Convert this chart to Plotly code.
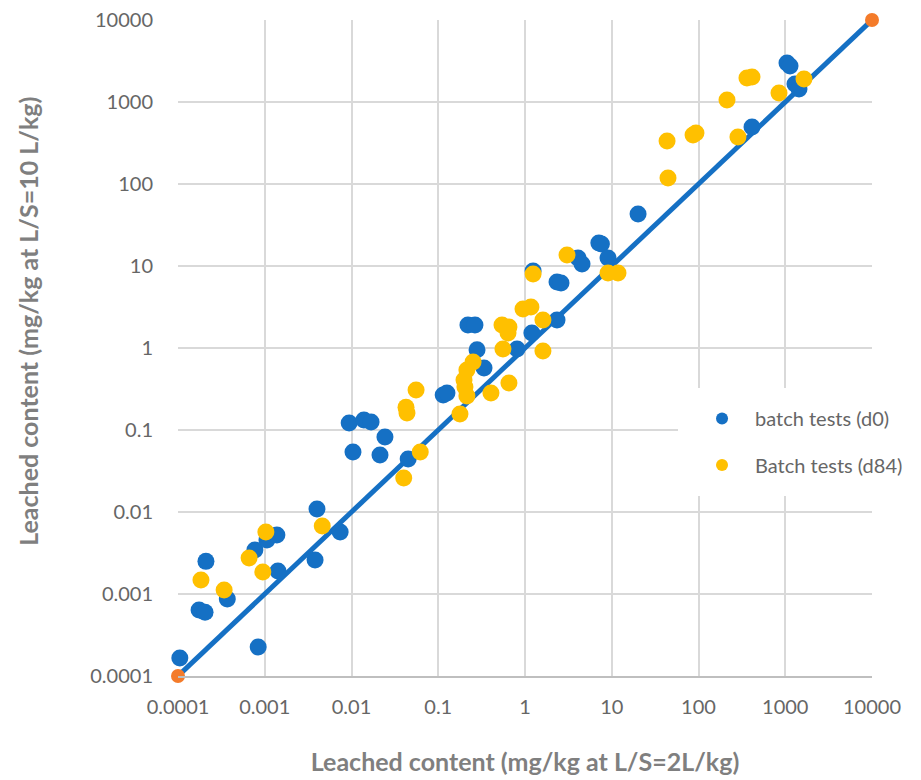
import plotly.graph_objects as go

# 1:1 reference series
ref_x = [0.0001, 10000]
ref_y = [0.0001, 10000]

# batch tests (d0)
d0_x = [1.05e-4, 8.4e-4, 1.75e-4, 2.05e-4, 2.1e-4, 3.7e-4, 7.7e-4, 1.06e-3, 1.38e-3, 1.42e-3,
        4.0e-3, 3.8e-3, 7.4e-3, 9.4e-3, 1.39e-2, 1.68e-2, 2.43e-2, 1.04e-2, 2.13e-2, 4.5e-2,
        0.114, 0.126, 0.22, 0.265, 0.28, 0.337, 0.81, 1.2, 1.24, 2.34,
        2.34, 2.6, 4.08, 4.54, 7.1, 7.6, 9.06, 20.1, 414, 1047,
        1135, 1295, 1440]
d0_y = [1.66e-4, 2.26e-4, 6.4e-4, 6.0e-4, 2.5e-3, 8.7e-4, 3.44e-3, 4.56e-3, 5.25e-3, 1.91e-3,
        1.09e-2, 2.6e-3, 5.7e-3, 0.122, 0.132, 0.125, 0.082, 0.054, 0.0496, 0.0443,
        0.267, 0.283, 1.91, 1.91, 0.95, 0.57, 0.97, 1.52, 8.7, 2.19,
        6.38, 6.2, 12.5, 10.6, 19.1, 18.5, 12.5, 43, 496, 2990,
        2750, 1660, 1440]

# Batch tests (d84)
d84_x = [1.84e-4, 3.4e-4, 6.6e-4, 1.03e-3, 9.5e-4, 4.6e-3, 5.55e-2, 4.25e-2, 4.36e-2, 6.2e-2,
         4.0e-2, 0.178, 0.214, 0.203, 0.198, 0.214, 0.252, 0.405, 0.653, 0.557,
         0.543, 0.653, 0.637, 0.948, 1.17, 1.61, 1.61, 1.24, 3.05, 9.06,
         11.8, 44.5, 43.4, 86.5, 93.5, 213, 285, 362, 414, 847, 1644]
d84_y = [1.48e-3, 1.12e-3, 2.75e-3, 5.7e-3, 1.85e-3, 6.75e-3, 0.307, 0.19, 0.161, 0.054,
         0.026, 0.157, 0.26, 0.334, 0.407, 0.54, 0.675, 0.283, 0.374, 0.97,
         1.91, 1.80, 1.52, 2.99, 3.16, 2.19, 0.92, 7.98, 13.6, 8.22,
         8.22, 118, 334, 396, 419, 1058, 374, 1963, 2020, 1288, 1906]

tick_vals = [0.0001, 0.001, 0.01, 0.1, 1, 10, 100, 1000, 10000]
tick_text = ["0.0001", "0.001", "0.01", "0.1", "1", "10", "100", "1000", "10000"]

BLUE = "#1570C4"
YELLOW = "#FFC000"
ORANGE = "#F47B2A"
FONT = "Lato"

fig = go.Figure()
fig.add_trace(go.Scatter(x=ref_x, y=ref_y, mode="lines", line=dict(color=BLUE, width=5),
                         showlegend=False, cliponaxis=False, hoverinfo="skip"))
fig.add_trace(go.Scatter(x=d0_x, y=d0_y, mode="markers", name="batch tests (d0)",
                         marker=dict(color=BLUE, size=17, line=dict(width=0)),
                         cliponaxis=False, legend="legend"))
fig.add_trace(go.Scatter(x=d84_x, y=d84_y, mode="markers", name="Batch tests (d84)",
                         marker=dict(color=YELLOW, size=17, line=dict(width=0)),
                         cliponaxis=False, legend="legend2"))
fig.add_trace(go.Scatter(x=ref_x, y=ref_y, mode="markers",
                         marker=dict(color=ORANGE, size=14, line=dict(width=0)),
                         showlegend=False, cliponaxis=False))

axis_common = dict(
    type="log", tickvals=tick_vals, ticktext=tick_text,
    showgrid=True, gridcolor="#D9D9D9", gridwidth=2,
    zeroline=False, ticks="outside", tickcolor="rgba(0,0,0,0)",
    tickfont=dict(family=FONT, size=20, color="#666666"),
)

title_font = dict(family=FONT, size=25, color="#7F7F7F")
fig.update_xaxes(axis_common, range=[-4, 4], ticklen=12,
                 showline=True, linecolor="#BFBFBF", linewidth=2, mirror=False,
                 title=dict(text="<b>Leached content (mg/kg at L/S=2L/kg)</b>",
                            font=title_font, standoff=36))
fig.update_yaxes(axis_common, range=[-4, 4], ticklen=20, showline=False)

fig.add_annotation(text="<b>Leached content (mg/kg at L/S=10 L/kg)</b>",
                   textangle=-90, font=title_font, showarrow=False,
                   xref="paper", yref="paper", x=-0.216, y=0.54,
                   xanchor="center", yanchor="middle")

leg_font = dict(family=FONT, size=20, color="#666666")
fig.update_layout(
    width=921, height=780,
    margin=dict(l=178, r=49, t=20, b=104, autoexpand=False),
    paper_bgcolor="white", plot_bgcolor="white",
    legend=dict(x=0.7205, y=0.439, xanchor="left", yanchor="top", bgcolor="white",
                bordercolor="white", borderwidth=11, font=leg_font,
                itemwidth=56, itemsizing="constant"),
    legend2=dict(x=0.7205, y=0.368, xanchor="left", yanchor="top", bgcolor="white",
                 bordercolor="white", borderwidth=11, font=leg_font,
                 itemwidth=56, itemsizing="constant"),
)

fig.write_html("out.html")
